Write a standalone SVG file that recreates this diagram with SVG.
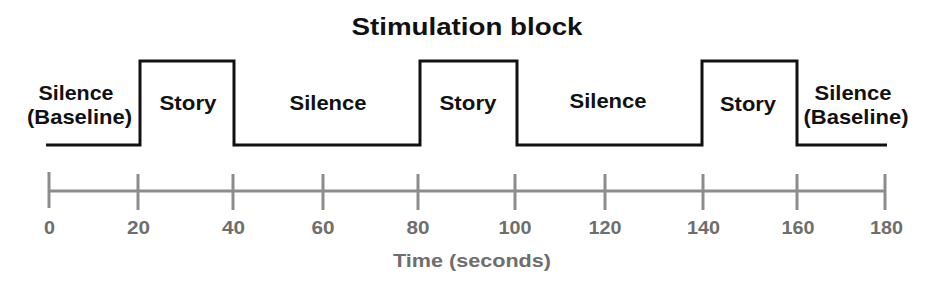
<svg xmlns="http://www.w3.org/2000/svg" width="950" height="284" viewBox="0 0 950 284">
<style>
.lbl{font-family:"Liberation Sans",Arial,sans-serif;font-weight:bold;font-size:21px;fill:#111;text-anchor:middle}
.tick{font-family:"Liberation Sans",Arial,sans-serif;font-weight:bold;font-size:19px;fill:#6e6e6e;text-anchor:middle}
.wave{fill:none;stroke:#111;stroke-width:3}
.axis{fill:none;stroke:#8c8c8c;stroke-width:3}
</style>
<rect width="950" height="284" fill="#fff"/>
<text x="467" y="35" font-family="Liberation Sans,Arial,sans-serif" font-weight="bold" font-size="24" fill="#111" text-anchor="middle" textLength="231" lengthAdjust="spacingAndGlyphs">Stimulation block</text>
<g id="connectors">
<path class="wave" d="M46 145 H140 V61 H234 V145 H420 V61 H517 V145 H702 V61 H797 V145 H887"/>
</g>
<g id="labels">
<text class="lbl" x="76" y="100" textLength="75" lengthAdjust="spacingAndGlyphs">Silence</text>
<text class="lbl" x="79.5" y="124" textLength="105" lengthAdjust="spacingAndGlyphs">(Baseline)</text>
<text class="lbl" x="188" y="110" textLength="57" lengthAdjust="spacingAndGlyphs">Story</text>
<text class="lbl" x="328" y="110" textLength="77" lengthAdjust="spacingAndGlyphs">Silence</text>
<text class="lbl" x="468" y="110" textLength="57" lengthAdjust="spacingAndGlyphs">Story</text>
<text class="lbl" x="608" y="108" textLength="77" lengthAdjust="spacingAndGlyphs">Silence</text>
<text class="lbl" x="748" y="111" textLength="56" lengthAdjust="spacingAndGlyphs">Story</text>
<text class="lbl" x="853" y="100" textLength="77" lengthAdjust="spacingAndGlyphs">Silence</text>
<text class="lbl" x="856" y="124" textLength="105" lengthAdjust="spacingAndGlyphs">(Baseline)</text>
</g>
<g id="axis">
<path class="axis" d="M49 191 H885 M49 172 V208 M138 174 V210 M233 174 V210 M323 174 V210 M418 174 V210 M515 174 V210 M605 174 V210 M703 174 V210 M797 174 V210 M885 174 V210"/>
<text class="tick" x="49.5" y="234" textLength="11" lengthAdjust="spacingAndGlyphs">0</text>
<text class="tick" x="138.5" y="234" textLength="23" lengthAdjust="spacingAndGlyphs">20</text>
<text class="tick" x="233.5" y="234" textLength="23" lengthAdjust="spacingAndGlyphs">40</text>
<text class="tick" x="323" y="234" textLength="23" lengthAdjust="spacingAndGlyphs">60</text>
<text class="tick" x="418" y="234" textLength="23" lengthAdjust="spacingAndGlyphs">80</text>
<text class="tick" x="515" y="234" textLength="33" lengthAdjust="spacingAndGlyphs">100</text>
<text class="tick" x="605" y="234" textLength="33" lengthAdjust="spacingAndGlyphs">120</text>
<text class="tick" x="703.5" y="234" textLength="33" lengthAdjust="spacingAndGlyphs">140</text>
<text class="tick" x="798" y="234" textLength="33" lengthAdjust="spacingAndGlyphs">160</text>
<text class="tick" x="886.5" y="234" textLength="33" lengthAdjust="spacingAndGlyphs">180</text>
<text class="tick" x="472" y="267" font-size="18" textLength="158" lengthAdjust="spacingAndGlyphs">Time (seconds)</text>
</g>
</svg>
